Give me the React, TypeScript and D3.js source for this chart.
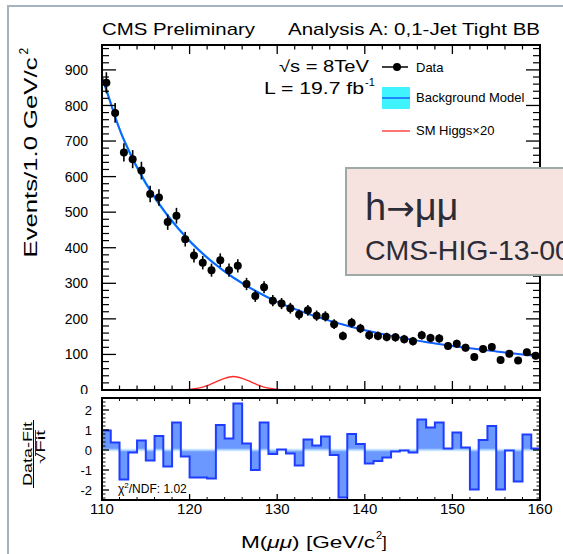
import React from 'react';
import * as d3 from 'd3';

// event counts per 1 GeV bin, 110.5 ... 159.5
const dataCounts = [
  864, 779, 668, 649, 617, 551, 541, 472, 490, 424,
  378, 358, 337, 365, 337, 349, 298, 264, 289, 251,
  243, 230, 212, 224, 209, 207, 185, 152, 189, 173,
  154, 152, 149, 148, 143, 137, 154, 146, 145, 124,
  130, 119, 93, 115, 121, 84, 102, 83, 106, 96,
];

// (Data-Fit)/sqrt(Fit) per bin
const pulls = [
  0.97, 0.38, -1.47, -0.13, 0.47, -0.53, 0.7, -0.83, 1.37, -0.33,
  -1.38, -1.38, -1.42, 1.25, 0.58, 2.33, 0.33, -1.0, 1.37, -0.2,
  0.02, -0.17, -0.77, 0.53, 0.23, 0.67, -0.25, -2.37, 0.8, 0.3,
  -0.67, -0.55, -0.38, -0.08, -0.02, -0.13, 1.53, 1.12, 1.38, 0.08,
  0.87, 0.13, -1.97, 0.5, 1.2, -1.97, -0.03, -1.58, 0.78, 0.08,
];

// background model curve
const fitMass = [110, 111, 112.5, 115, 117.5, 120, 122.5, 125, 127.5, 130, 132.5, 135, 137.5, 140, 142.5, 145, 147.5, 150, 152.5, 155, 157.5, 160];
const fitValues = [880, 806, 703, 581, 490, 419, 362, 316, 279, 248, 223, 202, 184, 168, 155, 143, 133, 123.5, 116, 108.5, 101, 94];

// SM Higgs x20
const higgsMass = [110, 118, 119, 120, 121, 122, 123, 124, 125, 126, 127, 128, 129, 130, 131, 132, 160];
const higgsValues = [0, 0, 0.4, 1.7, 5, 12, 23, 33, 38, 33, 23, 12, 5, 1.7, 0.4, 0, 0];

const yTickValues = [0, 100, 200, 300, 400, 500, 600, 700, 800, 900];
const xTickValues = [110, 120, 130, 140, 150, 160];
const ratioTickValues = [-2, -1, 0, 1, 2];

const font = "'Liberation Sans', Arial, Helvetica, sans-serif";

export default function App() {
  const W = 563, H = 554;
  const left = 102, right = 540, top = 45, mainBottom = 390, rTop = 398, rBottom = 500;

  const x = d3.scaleLinear().domain([110, 160]).range([left, right]);
  const y = d3.scaleLinear().domain([0, 970]).range([mainBottom, top]);
  const yr = d3.scaleLinear().domain([-2.5, 2.6]).range([rBottom, rTop]);

  const binLo = d3.range(dataCounts.length).map(i => 110 + i);

  const bandFrac = 0.012;
  const fitLine = d3.line<number>().x((d, i) => x(fitMass[i])).y(d => y(d)).curve(d3.curveNatural)(fitValues) || '';
  const fitBand = d3.area<number>().x((d, i) => x(fitMass[i]))
    .y0(d => y(d * (1 - bandFrac))).y1(d => y(d * (1 + bandFrac))).curve(d3.curveNatural)(fitValues) || '';
  const higgsLine = d3.line<number>().x((d, i) => x(higgsMass[i])).y(d => y(d)).curve(d3.curveMonotoneX)(higgsValues) || '';

  // step histogram of pulls
  const stepPts: [number, number][] = [[110, 0]];
  pulls.forEach((p, i) => { stepPts.push([binLo[i], p]); stepPts.push([binLo[i] + 1, p]); });
  stepPts.push([160, 0]);
  const stepLine = d3.line<[number, number]>().x(d => x(d[0])).y(d => yr(d[1]))(stepPts) || '';
  const stepArea = d3.area<[number, number]>().x(d => x(d[0])).y0(yr(0)).y1(d => yr(d[1]))(stepPts) || '';

  const minorY = d3.range(0, 970, 20).filter(v => v % 100 !== 0);
  const minorX = d3.range(110, 161, 2).filter(v => v % 10 !== 0);
  const minorR = d3.range(-2.4, 2.61, 0.2).map(v => +v.toFixed(1)).filter(v => Math.abs(v - Math.round(v)) > 0.01);

  return (
    <svg width={W} height={H} style={{ position: 'absolute', left: 0, top: 0, background: '#fff' }} fontFamily={font}>
      {/* titles */}
      <text x={102} y={35} fontSize={17} textLength={153} lengthAdjust="spacingAndGlyphs">CMS Preliminary</text>
      <text x={288} y={35} fontSize={17} textLength={252} lengthAdjust="spacingAndGlyphs">Analysis A: 0,1-Jet Tight BB</text>

      {/* main frame contents */}
      <path d={fitBand} fill="#3ff4ff" />
      <path d={fitLine} fill="none" stroke="#1560ff" strokeWidth={2} />
      <path d={higgsLine} fill="none" stroke="#ff2a2a" strokeWidth={1.3} />
      {dataCounts.map((v, i) => {
        const cx = x(binLo[i] + 0.5);
        const e = Math.sqrt(v);
        return (
          <g key={i}>
            <line x1={cx} x2={cx} y1={y(v + e)} y2={y(v - e)} stroke="#000" strokeWidth={1.6} />
            <circle cx={cx} cy={y(v)} r={4} fill="#000" />
          </g>
        );
      })}

      {/* main ticks */}
      {yTickValues.map(v => (
        <g key={'ym' + v}>
          <line x1={left} x2={left + 14} y1={y(v)} y2={y(v)} stroke="#000" strokeWidth={1.3} />
          <line x1={right} x2={right - 14} y1={y(v)} y2={y(v)} stroke="#000" strokeWidth={1.3} />
          <text x={88} y={y(v)} dy="0.36em" fontSize={14} textAnchor="end">{v}</text>
        </g>
      ))}
      {minorY.map(v => (
        <g key={'yn' + v}>
          <line x1={left} x2={left + 7} y1={y(v)} y2={y(v)} stroke="#000" strokeWidth={1.2} />
          <line x1={right} x2={right - 7} y1={y(v)} y2={y(v)} stroke="#000" strokeWidth={1.2} />
        </g>
      ))}
      {xTickValues.map(v => (
        <g key={'xm' + v}>
          <line x1={x(v)} x2={x(v)} y1={mainBottom} y2={mainBottom - 9} stroke="#000" strokeWidth={1.3} />
          <line x1={x(v)} x2={x(v)} y1={top} y2={top + 9} stroke="#000" strokeWidth={1.3} />
        </g>
      ))}
      {minorX.map(v => (
        <g key={'xn' + v}>
          <line x1={x(v)} x2={x(v)} y1={mainBottom} y2={mainBottom - 4.5} stroke="#000" strokeWidth={1.2} />
          <line x1={x(v)} x2={x(v)} y1={top} y2={top + 4.5} stroke="#000" strokeWidth={1.2} />
        </g>
      ))}
      <rect x={left} y={top} width={right - left} height={mainBottom - top} fill="none" stroke="#000" strokeWidth={2} />

      {/* sqrt(s), lumi */}
      <text x={369} y={72} fontSize={16} textAnchor="end" textLength={90} lengthAdjust="spacingAndGlyphs">√s = 8TeV</text>
      <text x={364} y={94} fontSize={16} textAnchor="end" textLength={100} lengthAdjust="spacingAndGlyphs">L = 19.7 fb</text>
      <text x={365} y={86} fontSize={11}>-1</text>

      {/* legend */}
      <line x1={382} x2={408} y1={67} y2={67} stroke="#000" strokeWidth={1.5} />
      <circle cx={397} cy={67} r={4} fill="#000" />
      <text x={416} y={72} fontSize={13}>Data</text>
      <rect x={382} y={87} width={28} height={22} fill="#3ff4ff" />
      <line x1={382} x2={410} y1={98} y2={98} stroke="#1560ff" strokeWidth={1.5} />
      <text x={416} y={102} fontSize={13}>Background Model</text>
      <line x1={382} x2={410} y1={131} y2={131} stroke="#ff2a2a" strokeWidth={1.3} />
      <text x={416} y={135} fontSize={13}>SM Higgs×20</text>

      {/* y title */}
      <g transform="translate(37,153.5) rotate(-90)">
        <text x={-4} y={0} fontSize={18} textAnchor="middle" textLength={200} lengthAdjust="spacingAndGlyphs">Events/1.0 GeV/c</text>
        <text x={99} y={-9} fontSize={12}>2</text>
      </g>

      {/* ratio pad */}
      <rect x={11} y={394} width={W} height={H} fill="#fff" />
      <path d={stepArea} fill="#6a98ff" />
      <line x1={left} x2={right} y1={yr(0)} y2={yr(0)} stroke="#b4dcff" strokeOpacity={0.75} strokeWidth={2.5} />
      <path d={stepLine} fill="none" stroke="#1f3dff" strokeWidth={2} />

      {ratioTickValues.map(v => (
        <g key={'rm' + v}>
          <line x1={left} x2={left + 7} y1={yr(v)} y2={yr(v)} stroke="#000" strokeWidth={1.3} />
          <line x1={right} x2={right - 7} y1={yr(v)} y2={yr(v)} stroke="#000" strokeWidth={1.3} />
          <text x={92} y={yr(v)} dy="0.36em" fontSize={13} textAnchor="end">{v}</text>
        </g>
      ))}
      {minorR.map(v => (
        <g key={'rn' + v}>
          <line x1={left} x2={left + 3.5} y1={yr(v)} y2={yr(v)} stroke="#000" strokeWidth={1} />
          <line x1={right} x2={right - 3.5} y1={yr(v)} y2={yr(v)} stroke="#000" strokeWidth={1} />
        </g>
      ))}
      {xTickValues.map(v => (
        <g key={'rx' + v}>
          <line x1={x(v)} x2={x(v)} y1={rBottom} y2={rBottom - 6} stroke="#000" strokeWidth={1.3} />
          <line x1={x(v)} x2={x(v)} y1={rTop} y2={rTop + 6} stroke="#000" strokeWidth={1.3} />
          <text x={x(v)} y={514} fontSize={15} textAnchor="middle">{v}</text>
        </g>
      ))}
      {minorX.map(v => (
        <g key={'rxn' + v}>
          <line x1={x(v)} x2={x(v)} y1={rBottom} y2={rBottom - 3} stroke="#000" strokeWidth={1} />
          <line x1={x(v)} x2={x(v)} y1={rTop} y2={rTop + 3} stroke="#000" strokeWidth={1} />
        </g>
      ))}
      <rect x={left} y={rTop} width={right - left} height={rBottom - rTop} fill="none" stroke="#000" strokeWidth={2} />

      <text x={118} y={493} fontSize={12}>χ<tspan dy={-5} fontSize={8}>2</tspan><tspan dy={5}>/NDF: 1.02</tspan></text>

      {/* ratio y title */}
      <g transform="translate(33,454) rotate(-90)">
        <text x={0} y={-1.5} fontSize={12} textAnchor="middle" textLength={64} lengthAdjust="spacingAndGlyphs">Data-Fit</text>
        <line x1={-34} x2={34} y1={0.5} y2={0.5} stroke="#000" strokeWidth={1} />
        <text x={7} y={12} fontSize={12} textAnchor="middle" textLength={34} lengthAdjust="spacingAndGlyphs">√Fit</text>
        <line x1={-2} x2={24} y1={2.5} y2={2.5} stroke="#000" strokeWidth={0.8} />
      </g>

      {/* x title */}
      <text x={241} y={548} fontSize={17} textLength={134} lengthAdjust="spacingAndGlyphs">
        M(<tspan fontStyle="italic">μμ</tspan>) [GeV/c
      </text>
      <text x={376} y={539} fontSize={11}>2</text>
      <text x={382} y={548} fontSize={17}>]</text>

      {/* overlay box */}
      <rect x={346} y={168} width={240} height={107} fill="#f6e3df" stroke="#9fa9a6" strokeWidth={2} />
      <text x={365} y={220} fontSize={38} fill="#2c2c38">h<tspan fontFamily="'DejaVu Sans'" fontSize={34}>→</tspan>μμ</text>
      <text x={365} y={260} fontSize={28.5} fill="#2c2c38">CMS-HIG-13-007</text>

      {/* slide border */}
      <rect x={8} y={6} width={620} height={620} fill="none" stroke="#a8b3c1" strokeWidth={2} />
    </svg>
  );
}
